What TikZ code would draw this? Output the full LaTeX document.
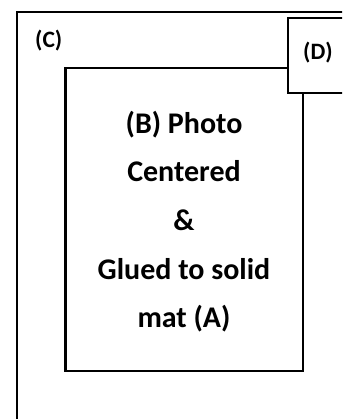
\documentclass[tikz,border=0pt]{standalone}
\usepackage{fontspec}
\setmainfont{Carlito}
\begin{document}
\begin{tikzpicture}[x=1pt,y=1pt,
  frame/.style={draw=black, line width=2.8pt},
  lbl/.style={inner sep=0pt, font=\fontsize{23.5}{28}\selectfont\bfseries},
  maintext/.style={inner sep=0pt, anchor=base, font=\fontsize{30}{36}\selectfont\bfseries}]
\useasboundingbox (0,0) rectangle (342,419);
\clip (0,0) rectangle (342,419);
% outer mat (C)
\draw[frame] (17,407) rectangle (380,-30);
\node[lbl, anchor=base west] (C) at (35,371) {(C)};
% photo box (B)
\coordinate (Bnw) at (65.5,351);
\coordinate (Bse) at (303,48);
\draw[frame] (Bnw) rectangle (Bse);
% box (D)
\draw[frame, fill=white] (288,401) rectangle (380,326);
\node[lbl, anchor=base west] (D) at (303,359) {(D)};
% text lines
\node[maintext] (l1) at (184,285) {(B) Photo};
\node[maintext] (l2) at (184,237) {Centered};
\node[maintext] (l3) at (184,188) {\&};
\node[maintext] (l4) at (184,139) {Glued to solid};
\node[maintext] (l5) at (184,91) {mat (A)};
\end{tikzpicture}
\end{document}
